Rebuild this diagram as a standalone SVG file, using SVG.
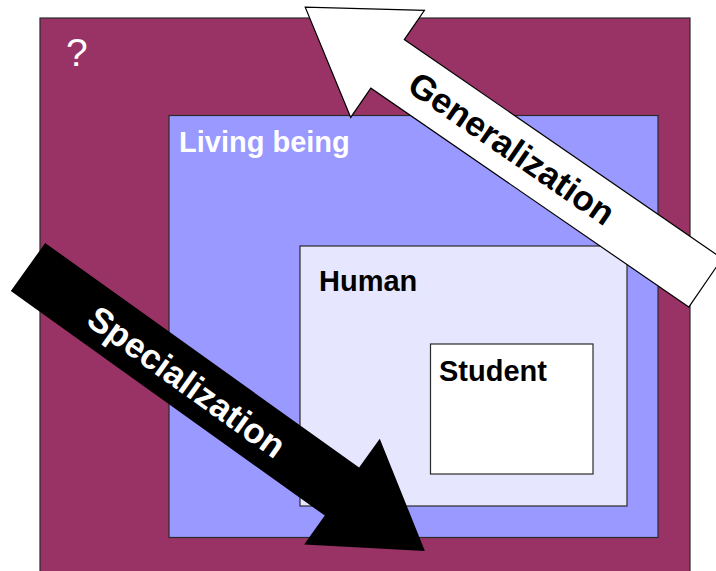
<svg xmlns="http://www.w3.org/2000/svg" width="716" height="571" viewBox="0 0 716 571">
  <style>
    .box { stroke: #2a2a2a; stroke-width: 1.2; }
    .lbl { font-family: "Liberation Sans", Arial, Helvetica, sans-serif; font-weight: bold; font-size: 29px; }
    .arrowtxt { font-family: "Liberation Sans", Arial, Helvetica, sans-serif; font-weight: bold; font-size: 35px; text-anchor: middle; }
  </style>
  <rect x="0" y="0" width="716" height="571" fill="#ffffff"/>
  <g id="unknown">
    <rect class="box" x="40" y="18" width="650" height="570" fill="#993366"/>
    <text x="66" y="66" font-family="Liberation Sans, Arial, sans-serif" font-size="39" fill="#ffffff">?</text>
  </g>
  <g id="living-being">
    <rect class="box" x="169" y="115.5" width="489" height="422" fill="#9999ff"/>
    <text class="lbl" x="179" y="152" fill="#ffffff">Living being</text>
  </g>
  <g id="human">
    <rect class="box" x="300" y="246" width="327" height="260" fill="#e6e6ff"/>
    <text class="lbl" x="319" y="290.5" fill="#000000">Human</text>
  </g>
  <g id="student">
    <rect class="box" x="430.5" y="344" width="162.5" height="130" fill="#ffffff"/>
    <text class="lbl" x="439" y="381" fill="#000000">Student</text>
  </g>
  <g id="connectors">
    <g id="generalization">
      <polygon transform="translate(705.5,282.8) rotate(214.55)" points="0,-29.5 386,-29.5 386,-65 486,0 386,65 386,29.5 0,29.5" fill="#ffffff" stroke="#000000" stroke-width="1.2" stroke-linejoin="miter"/>
      <text class="arrowtxt" transform="translate(512,148) rotate(34.55)" x="0" y="12.5" font-size="36" fill="#000000">Generalization</text>
    </g>
    <g id="specialization">
      <polygon transform="translate(28,267) rotate(35.58)" points="0,-29.5 386,-29.5 386,-65 488,0 386,65 386,29.5 0,29.5" fill="#000000"/>
      <text class="arrowtxt" transform="translate(187,381.5) rotate(35.58)" x="0" y="12.5" fill="#ffffff">Specialization</text>
    </g>
  </g>
</svg>
